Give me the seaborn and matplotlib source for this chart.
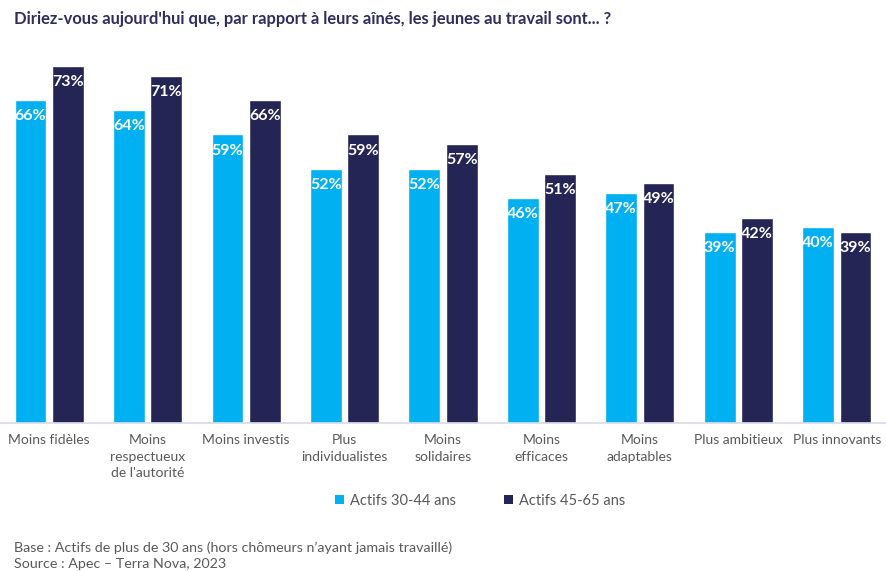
import matplotlib
matplotlib.use("Agg")
import matplotlib.pyplot as plt
import seaborn as sns
import pandas as pd
from matplotlib.patches import Patch

categories = [
    "Moins fidèles",
    "Moins\nrespectueux\nde l'autorité",
    "Moins investis",
    "Plus\nindividualistes",
    "Moins\nsolidaires",
    "Moins\nefficaces",
    "Moins\nadaptables",
    "Plus ambitieux",
    "Plus innovants",
]
series_names = ["Actifs 30-44 ans", "Actifs 45-65 ans"]
actifs_30_44 = [66, 64, 59, 52, 52, 46, 47, 39, 40]
actifs_45_65 = [73, 71, 66, 59, 57, 51, 49, 42, 39]

colors = ["#00B0F0", "#252555"]
text_gray = "#595959"

df = pd.DataFrame({
    "categorie": categories * 2,
    "groupe": [series_names[0]] * len(categories) + [series_names[1]] * len(categories),
    "valeur": actifs_30_44 + actifs_45_65,
})

sns.set_theme(style="white")
plt.rcParams["font.family"] = ["Lato", "DejaVu Sans"]

fig = plt.figure(figsize=(8.86, 5.71), dpi=100)
ax = fig.add_axes([0.0, 0.2592, 1.0, 0.651])

sns.barplot(
    data=df, x="categorie", y="valeur", hue="groupe",
    order=categories, hue_order=series_names,
    palette=colors, width=0.76, gap=0.15, saturation=1,
    legend=False, ax=ax,
)

ax.set_ylim(0, 76)
ax.set_xlim(-0.5, 8.5)
ax.set_xlabel("")
ax.set_ylabel("")
ax.set_yticks([])
for side in ["top", "left", "right"]:
    ax.spines[side].set_visible(False)
ax.spines["bottom"].set_color("#D9D9E6")
ax.spines["bottom"].set_linewidth(1.2)
ax.tick_params(axis="x", length=0, pad=8, labelsize=10, labelcolor=text_gray)
for lbl in ax.get_xticklabels():
    lbl.set_linespacing(1.45)

# value labels inside the top of each bar
for container in ax.containers:
    for bar in container:
        h = bar.get_height()
        ax.text(
            bar.get_x() + bar.get_width() / 2, h - 3.3, f"{h:.0f}%",
            ha="center", va="center", color="white",
            fontsize=11.5, fontweight="bold",
        )

handles = [Patch(facecolor=c, edgecolor="none") for c in colors]
fig.legend(
    handles, series_names, loc="center", bbox_to_anchor=(0.542, 0.123),
    ncol=2, frameon=False, fontsize=10.5, labelcolor=text_gray,
    handlelength=0.6, handleheight=0.6, handletextpad=0.4, columnspacing=3.3,
)

fig.text(0.016, 0.967, "Diriez-vous aujourd'hui que, par rapport à leurs aînés, les jeunes au travail sont... ?",
         ha="left", va="center", fontsize=11.9, fontweight="bold", color="#2E2E5E")
fig.text(0.016, 0.040, "Base : Actifs de plus de 30 ans (hors chômeurs n\u2019ayant jamais travaillé)",
         ha="left", va="center", fontsize=10.3, color=text_gray)
fig.text(0.016, 0.013, "Source : Apec \u2013 Terra Nova, 2023",
         ha="left", va="center", fontsize=10.3, color=text_gray)

fig.savefig("out.png", dpi=100)
